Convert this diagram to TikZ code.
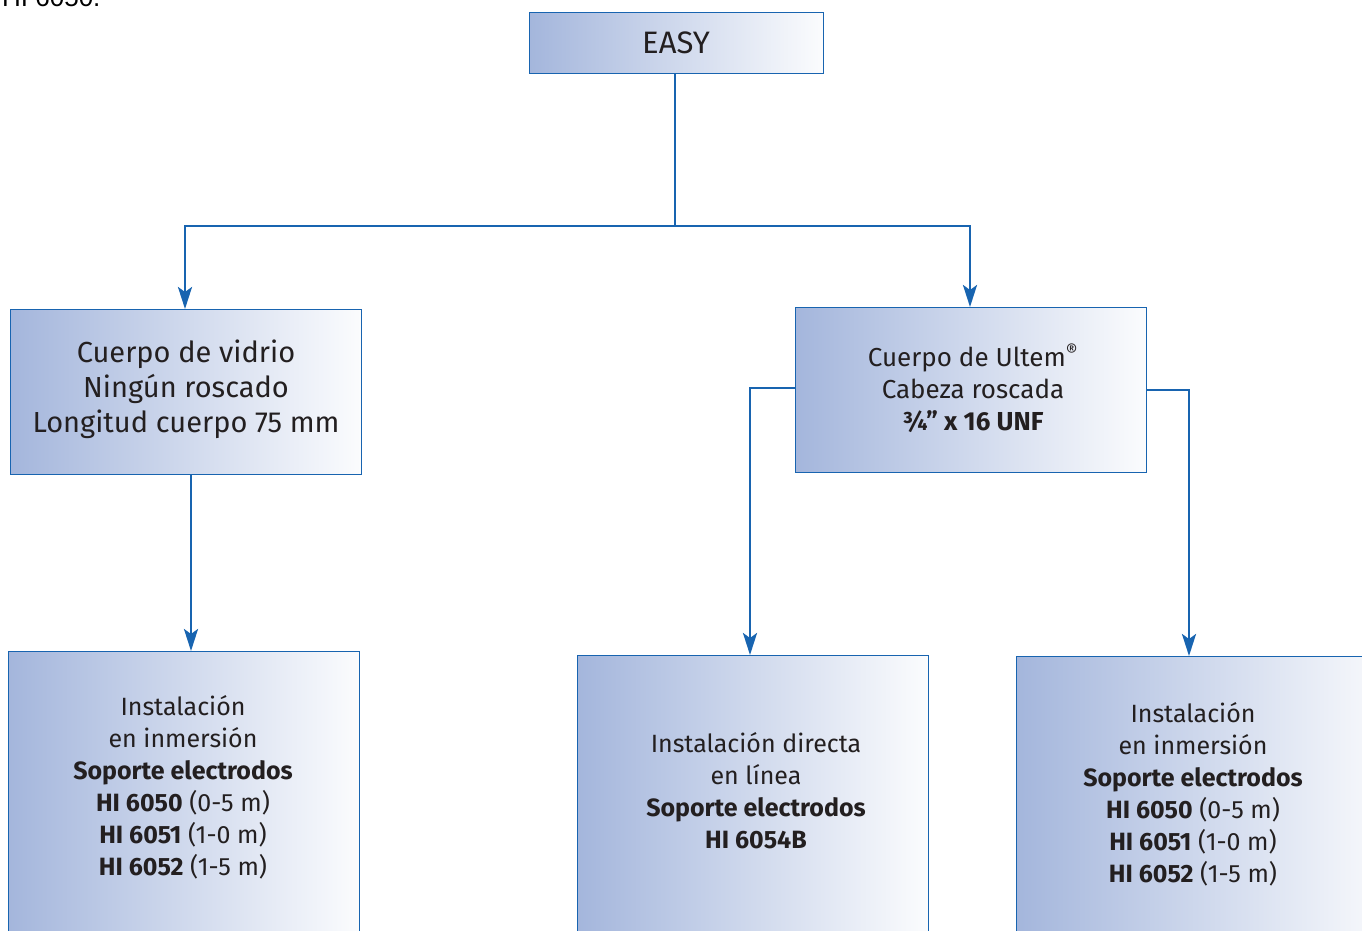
\documentclass[tikz,border=0pt]{standalone}
\usepackage{fontspec}
\setmainfont{Fira Sans}
\newfontfamily\arialfont{Liberation Sans}
\usetikzlibrary{arrows.meta}
\definecolor{lineblue}{RGB}{24,100,176}
\definecolor{boxblue}{RGB}{164,182,220}
\definecolor{boxmid}{RGB}{198,209,233}
\definecolor{txt}{RGB}{35,31,32}
\tikzset{
  box/.style={draw=lineblue, line width=1.4pt, left color=boxblue, middle color=boxmid, right color=white!96!boxblue, anchor=north west, inner sep=0pt},
  conn/.style={draw=lineblue, line width=2.8pt},
  arr/.style={conn, -{Stealth[length=22pt,width=14pt,inset=5pt]}},
  lbl/.style={text=txt, align=center, inner sep=0pt},
}
\begin{document}
\begin{tikzpicture}[x=1pt,y=-1pt]
\useasboundingbox (0,0) rectangle (1362,930);
\clip (0,0) rectangle (1362,930);
\node[anchor=base west, inner sep=0pt, text=black, font=\arialfont\fontsize{26}{30}\selectfont] (prev) at (2,6) {HI 6050.};
% boxes
\node[box, minimum width=294pt, minimum height=61pt] (easy) at (529,12) {};
\node[box, minimum width=351pt, minimum height=165pt] (lm) at (10,309) {};
\node[box, minimum width=351pt, minimum height=165pt] (rm) at (795,307) {};
\node[box, minimum width=351pt, minimum height=320pt] (bl) at (8,651) {};
\node[box, minimum width=351pt, minimum height=320pt] (bm) at (577,655) {};
\node[box, minimum width=380pt, minimum height=320pt] (br) at (1016,656) {};
% texts
\node[lbl, font=\fontsize{31}{32}\selectfont] (teasy) at (676,43) {EASY};
\node[lbl, font=\fontsize{29}{35}\selectfont] (tlm) at (186,389) {Cuerpo de vidrio\\Ningún roscado\\Longitud cuerpo 75 mm};
\node[lbl, font=\fontsize{26}{32}\selectfont] (trm) at (973,388) {Cuerpo de Ultem\textsuperscript{®}\\Cabeza roscada\\\textbf{¾" x 16 UNF}};
\node[lbl, font=\fontsize{25}{32}\selectfont] (tbl) at (183,787) {Instalación\\en inmersión\\\textbf{Soporte electrodos}\\\textbf{HI 6050} (0-5 m)\\\textbf{HI 6051} (1-0 m)\\\textbf{HI 6052} (1-5 m)};
\node[lbl, font=\fontsize{25}{32}\selectfont] (tbm) at (756,791) {Instalación directa\\en línea\\\textbf{Soporte electrodos}\\\textbf{HI 6054B}};
\node[lbl, font=\fontsize{25}{32}\selectfont] (tbr) at (1193,794) {Instalación\\en inmersión\\\textbf{Soporte electrodos}\\\textbf{HI 6050} (0-5 m)\\\textbf{HI 6051} (1-0 m)\\\textbf{HI 6052} (1-5 m)};
% connectors
\coordinate (j) at (675,226);
\coordinate (lin) at (185,309);
\coordinate (rin) at (970,307);
\coordinate (blin) at (191,651);
\coordinate (lout) at (191,474);
\coordinate (bmin) at (750,655);
\coordinate (brin) at (1189,656);
\draw[conn] (easy.south -| 675,0) -- (j);
\draw[arr] (j) -| (lin);
\draw[arr] (j) -| (rin);
\draw[arr] (lout) -- (blin);
\draw[arr] (rm.west |- 0,388) -| (bmin);
\draw[arr] (rm.east |- 0,390) -| (brin);
\end{tikzpicture}
\end{document}
